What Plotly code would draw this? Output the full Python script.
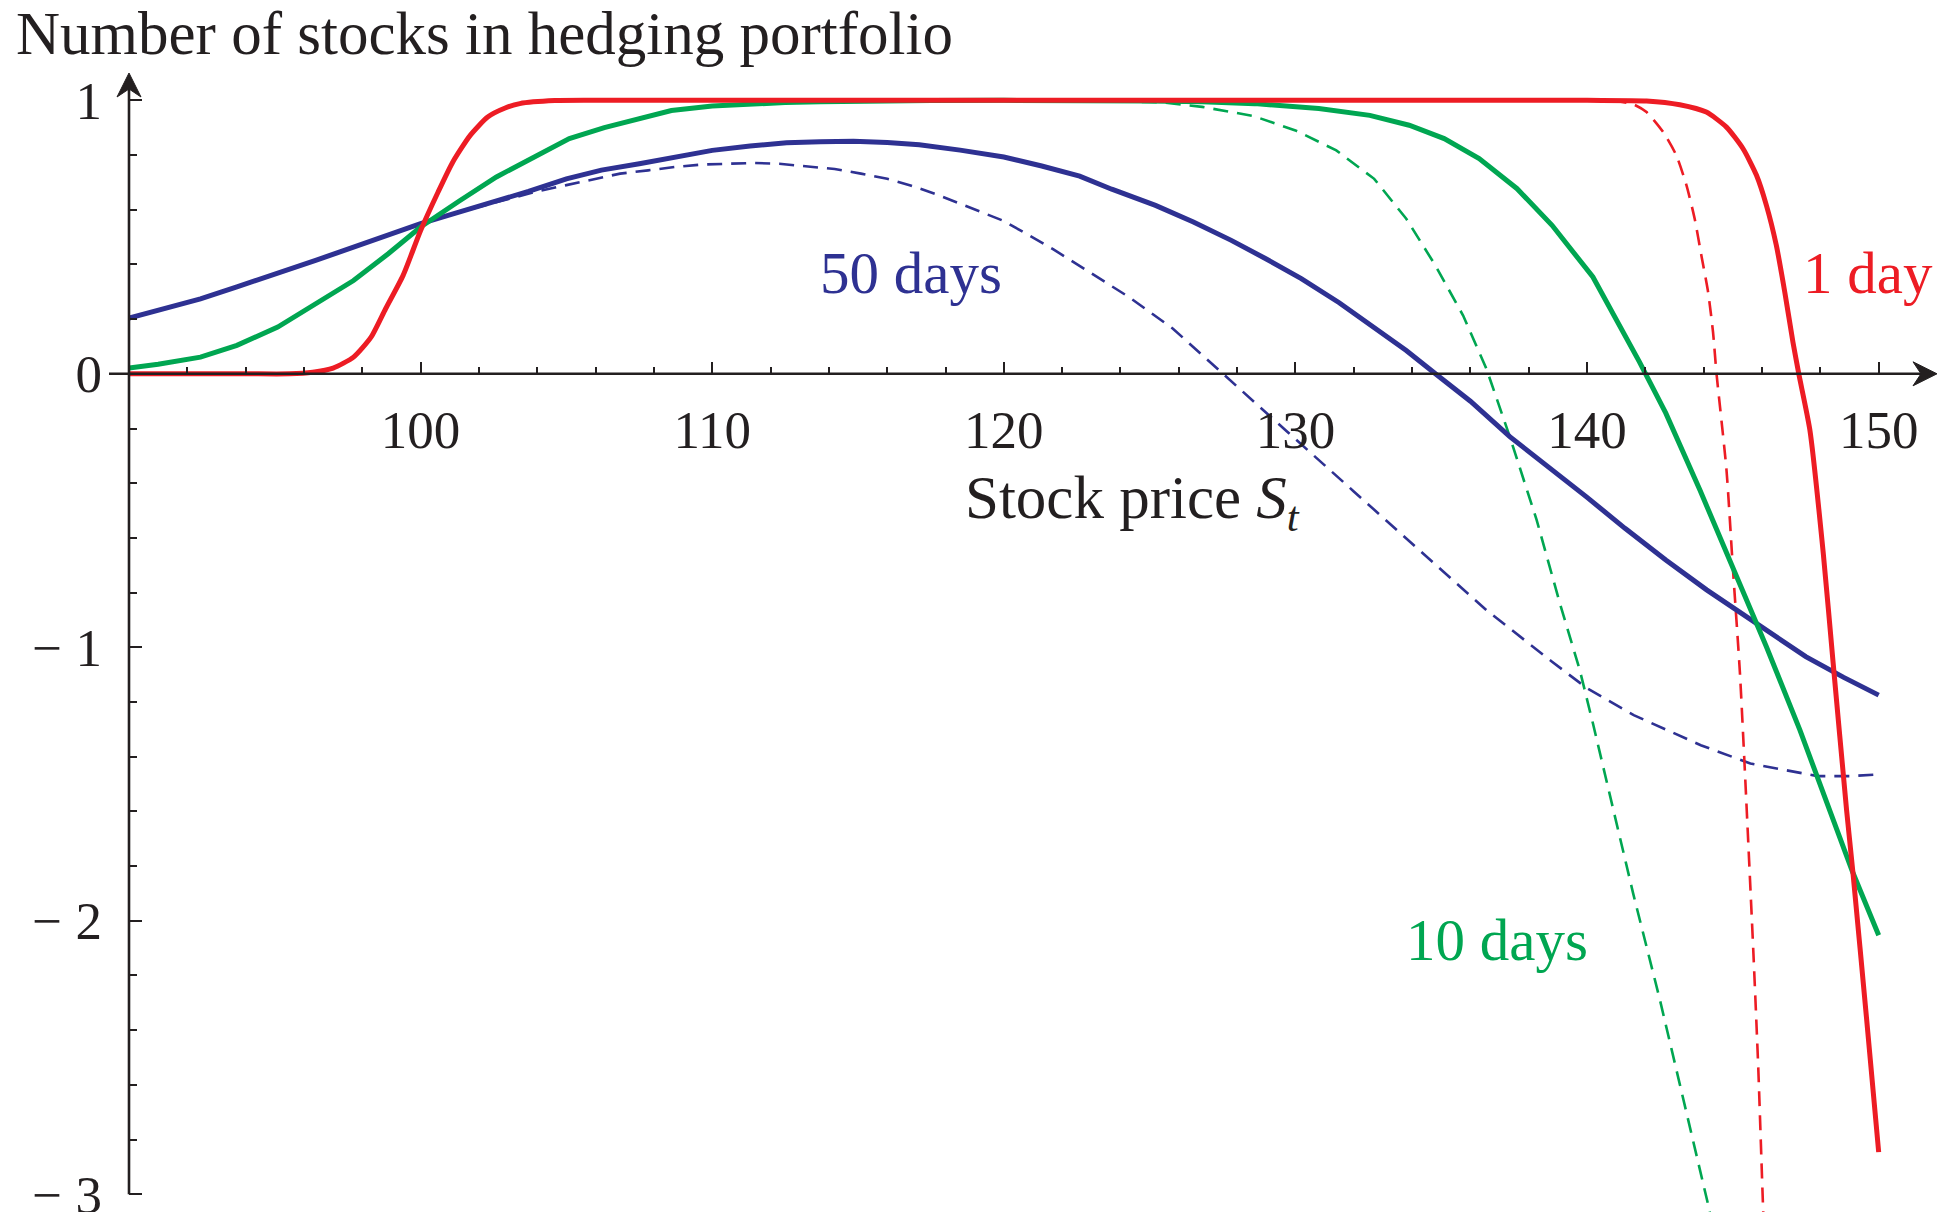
import plotly.graph_objects as go

# ---- data: hedge ratio (number of stocks) vs. stock price ----
# 1 day to maturity
x_1d = [90, 94, 95.5, 96.3, 97, 97.7, 98.3, 98.8, 99.4, 100, 100.6, 101.1, 101.7, 102.3,
        102.9, 103.4, 104.6, 106, 120, 140, 142.04, 143.18, 144.09, 144.78, 145.35,
        145.81, 146.15, 146.49, 146.78, 147.06, 147.26, 147.64, 148.1, 148.44, 148.9,
        149.12, 149.58, 150.0]
y_1d = [0, 0, 0.0, 0.006, 0.021, 0.061, 0.134, 0.238, 0.36, 0.524, 0.665, 0.774, 0.872, 0.939,
        0.972, 0.988, 0.999, 1.0, 1.0, 1.0, 0.998, 0.984, 0.957, 0.902, 0.823,
        0.726, 0.616, 0.47, 0.299, 0.116, 0.0, -0.205, -0.656, -1.059, -1.596,
        -1.827, -2.352, -2.846]
x_1d_alt = [90, 94, 95.5, 96.3, 97, 97.7, 98.3, 98.8, 99.4, 100, 100.6, 101.1, 101.7, 102.3,
            102.9, 103.4, 104.6, 106, 120, 140, 141.1, 141.6, 142.04, 142.61, 143.06, 143.41,
            143.69, 143.92, 144.15, 144.32, 144.44, 144.78, 145.0, 145.24, 145.41, 145.7,
            145.87, 146.04, 146.1]
y_1d_alt = [0, 0, 0.0, 0.006, 0.021, 0.061, 0.134, 0.238, 0.36, 0.524, 0.665, 0.774, 0.872, 0.939,
            0.972, 0.988, 0.999, 1.0, 1.0, 1.0, 0.996, 0.985, 0.957, 0.884, 0.799, 0.689,
            0.567, 0.433, 0.299, 0.152, 0.0, -0.35, -0.71, -1.09, -1.449, -2.108,
            -2.535, -3.06, -3.2]

# 10 days to maturity
x_10d = [90, 91, 92.45, 93.7, 95.1, 96.4, 97.7, 98.9, 100, 101.3, 102.6, 103.9, 105.1, 106.3,
         107.5, 108.6, 110, 111.2, 112.5, 113.7, 115, 117.5, 120, 122.5, 125, 126.8, 128.6,
         130.8, 132.55, 133.9, 135.1, 136.3, 137.6, 138.8, 140.2, 141.8, 142.7, 143.87,
         145, 146.15, 147.3, 148.3, 149.1, 150.0]
y_10d = [0.021, 0.035, 0.061, 0.104, 0.171, 0.255, 0.341, 0.44, 0.537, 0.63, 0.72, 0.793, 0.86,
         0.90, 0.935, 0.963, 0.979, 0.987, 0.992, 0.995, 0.997, 0.999, 1.0, 1.0, 0.998, 0.995,
         0.988, 0.97, 0.945, 0.909, 0.86, 0.787, 0.677, 0.543, 0.354, 0.043, -0.144, -0.425,
         -0.705, -0.998, -1.303, -1.596, -1.82, -2.053]
x_10d_alt = [90, 91, 92.45, 93.7, 95.1, 96.4, 97.7, 98.9, 100, 101.3, 102.6, 103.9, 105.1, 106.3,
             107.5, 108.6, 110, 111.2, 112.5, 113.7, 115, 117.5, 120, 122, 124, 125.5, 126.8,
             128.55, 130, 131.4, 132.7, 133.8, 134.8, 135.75, 136.55, 137.35, 138.27, 139.07,
             139.75, 140.2, 140.9, 141.58, 142.5, 143.41, 144.2, 144.3]
y_10d_alt = [0.021, 0.035, 0.061, 0.104, 0.171, 0.255, 0.341, 0.44, 0.537, 0.63, 0.72, 0.793, 0.86,
             0.90, 0.935, 0.963, 0.979, 0.987, 0.992, 0.995, 0.997, 0.999, 1.0, 0.999, 0.997,
             0.992, 0.976, 0.943, 0.89, 0.817, 0.713, 0.567, 0.396, 0.213, 0.018, -0.23,
             -0.534, -0.84, -1.083, -1.278, -1.595, -1.90, -2.29, -2.705, -3.06, -3.12]

# 50 days to maturity
x_50d = [90, 91.2, 92.45, 93.7, 95.08, 96.4, 97.7, 98.9, 100, 101.2, 102.3, 103.7, 105, 106.2,
         107.5, 108.7, 110, 111.3, 112.55, 113.7, 114.84, 116, 117.1, 118.5, 120, 121.3, 122.6,
         123.7, 125.2, 126.5, 127.8, 129, 130.2, 131.5, 132.7, 133.8, 134.8, 136, 137.35,
         138.7, 139.98, 141.3, 142.7, 144.1, 145.6, 147.5, 148.8, 150]
y_50d = [0.204, 0.237, 0.274, 0.318, 0.366, 0.415, 0.463, 0.508, 0.549, 0.588, 0.622, 0.667,
         0.713, 0.745, 0.768, 0.792, 0.817, 0.833, 0.845, 0.849, 0.85, 0.846, 0.838, 0.818,
         0.793, 0.76, 0.723, 0.675, 0.616, 0.555, 0.488, 0.42, 0.348, 0.26, 0.171, 0.085,
         0.0, -0.1, -0.23, -0.34, -0.45, -0.565, -0.681, -0.79, -0.90, -1.034, -1.11, -1.175]
x_50d_alt = [90, 91.2, 92.45, 93.7, 95.08, 96.4, 97.7, 98.9, 100, 101.2, 102.3, 103, 104, 105,
             106, 106.84, 107.8, 108.7, 109.6, 110.5, 111.4, 112.3, 113.2, 114.2, 115.1, 116,
             116.8, 117.7, 118.5, 120, 121.7, 123.4, 124.3, 125.8, 127.5, 129.7, 132, 134.3,
             136.55, 138.8, 140, 141.6, 143.9, 145.6, 147.9, 149, 150]
y_50d_alt = [0.204, 0.237, 0.274, 0.318, 0.366, 0.415, 0.463, 0.508, 0.549, 0.588, 0.62, 0.64,
             0.667, 0.69, 0.712, 0.732, 0.744, 0.756, 0.765, 0.768, 0.771, 0.768, 0.76, 0.749,
             0.732, 0.713, 0.689, 0.656, 0.622, 0.559, 0.455, 0.341, 0.28, 0.165, 0.0, -0.21,
             -0.43, -0.65, -0.864, -1.053, -1.15, -1.248, -1.358, -1.425, -1.471, -1.471, -1.465]

x_ticks = [100, 110, 120, 130, 140, 150]
x_tick_text = ["100", "110", "120", "130", "140", "150"]
y_ticks = [-3, -2, -1, 0, 1]
y_tick_text = ["\u2212 3", "\u2212 2", "\u2212 1", "0", "1"]

# ---- styling ----
RED = "#ED1C24"
GREEN = "#00A651"
NAVY = "#2E3192"
INK = "#231F20"
FONT = "Liberation Serif"

W_PX, H_PX = 1941, 1212
ML, MR, MT, MB = 129, 4, 73, 0
PW, PH = W_PX - ML - MR, H_PX - MT - MB
X_RANGE = [90, 152]
Y_RANGE = [-3.065, 1.10]


def px_x(fx):
    return (fx - ML) / PW


def px_y(fy):
    return 1 - (fy - MT) / PH


def data_y_to_px(v):
    return MT + (Y_RANGE[1] - v) / (Y_RANGE[1] - Y_RANGE[0]) * PH


zero_px = data_y_to_px(0)
zero_paper = (0 - Y_RANGE[0]) / (Y_RANGE[1] - Y_RANGE[0])

fig = go.Figure()

solid_w, dash_w, dash_pat = 5.0, 2.6, "15px,9px"
# dashed companions first so the solid curves sit on top
for xs, ys, col, shape in [(x_50d_alt, y_50d_alt, NAVY, "linear"),
                           (x_10d_alt, y_10d_alt, GREEN, "linear"),
                           (x_1d_alt, y_1d_alt, RED, "spline")]:
    fig.add_trace(go.Scatter(x=xs, y=ys, mode="lines", showlegend=False, hoverinfo="skip",
                             line=dict(color=col, width=dash_w, dash=dash_pat, shape=shape,
                                       smoothing=0.6)))
for xs, ys, col, shape in [(x_50d, y_50d, NAVY, "linear"), (x_10d, y_10d, GREEN, "linear"),
                           (x_1d, y_1d, RED, "spline")]:
    fig.add_trace(go.Scatter(x=xs, y=ys, mode="lines", showlegend=False, hoverinfo="skip",
                             line=dict(color=col, width=solid_w, shape=shape, smoothing=0.6)))

# axis lines with stealth arrowheads
x_axis_left_px = 109
x_tip_px = ML + PW
y_axis_px = ML
y_tip_px = MT
y_bottom_px = data_y_to_px(-3)


def path(points):
    return "M " + " L ".join(f"{px_x(a):.6f},{px_y(b):.6f}" for a, b in points) + " Z"


shapes = [
    dict(type="line", xref="paper", yref="paper", x0=px_x(x_axis_left_px), x1=px_x(x_tip_px - 14),
         y0=zero_paper, y1=zero_paper, line=dict(color=INK, width=2.6)),
    dict(type="line", xref="paper", yref="paper", x0=px_x(y_axis_px), x1=px_x(y_axis_px),
         y0=px_y(y_bottom_px), y1=px_y(y_tip_px + 14), line=dict(color=INK, width=2.6)),
    dict(type="path", xref="paper", yref="paper", fillcolor=INK, line=dict(color=INK, width=1),
         path=path([(x_tip_px, zero_px), (x_tip_px - 24, zero_px - 12),
                    (x_tip_px - 16, zero_px), (x_tip_px - 24, zero_px + 12)])),
    dict(type="path", xref="paper", yref="paper", fillcolor=INK, line=dict(color=INK, width=1),
         path=path([(y_axis_px, y_tip_px), (y_axis_px - 12, y_tip_px + 24),
                    (y_axis_px, y_tip_px + 16), (y_axis_px + 12, y_tip_px + 24)])),
]

annotations = [
    dict(text="Number of stocks in hedging portfolio", xref="paper", yref="paper",
         x=px_x(14), y=px_y(33), xanchor="left", yanchor="middle", showarrow=False,
         font=dict(family=FONT, size=61, color=INK)),
    dict(text="Stock price <i>S</i><sub><i>t</i></sub>", x=124.4, y=-0.47, xref="x", yref="y",
         xanchor="center", yanchor="middle", showarrow=False,
         font=dict(family=FONT, size=61, color=INK)),
    dict(text="50 days", x=116.8, y=0.37, xref="x", yref="y", showarrow=False,
         xanchor="center", yanchor="middle", font=dict(family=FONT, size=59, color=NAVY)),
    dict(text="10 days", x=136.9, y=-2.07, xref="x", yref="y", showarrow=False,
         xanchor="center", yanchor="middle", font=dict(family=FONT, size=59, color=GREEN)),
    dict(text="1 day", x=149.62, y=0.37, xref="x", yref="y", showarrow=False,
         xanchor="center", yanchor="middle", font=dict(family=FONT, size=59, color=RED)),
]

fig.update_layout(
    width=W_PX, height=H_PX,
    margin=dict(l=ML, r=MR, t=MT, b=MB, autoexpand=False),
    paper_bgcolor="white", plot_bgcolor="white",
    shapes=shapes, annotations=annotations,
    xaxis=dict(range=X_RANGE, anchor="free", position=zero_paper, showgrid=False,
               zeroline=False, showline=False, ticks="inside", ticklen=12, tickwidth=2.4,
               tickcolor=INK, tickvals=x_ticks, ticktext=x_tick_text, ticklabelstandoff=20,
               tickfont=dict(family=FONT, size=53, color=INK),
               minor=dict(ticks="inside", ticklen=7, tickwidth=2.4, tickcolor=INK,
                          tick0=90, dtick=2, showgrid=False)),
    yaxis=dict(range=Y_RANGE, showgrid=False, zeroline=False, showline=False,
               ticks="inside", ticklen=13, tickwidth=2.4, tickcolor=INK,
               tickvals=y_ticks, ticktext=y_tick_text, ticklabelstandoff=26,
               ticklabeloverflow="allow",
               tickfont=dict(family=FONT, size=53, color=INK),
               minor=dict(ticks="inside", ticklen=8, tickwidth=2.4, tickcolor=INK,
                          tick0=0, dtick=0.2, showgrid=False)),
)

fig.write_html("out.html")
